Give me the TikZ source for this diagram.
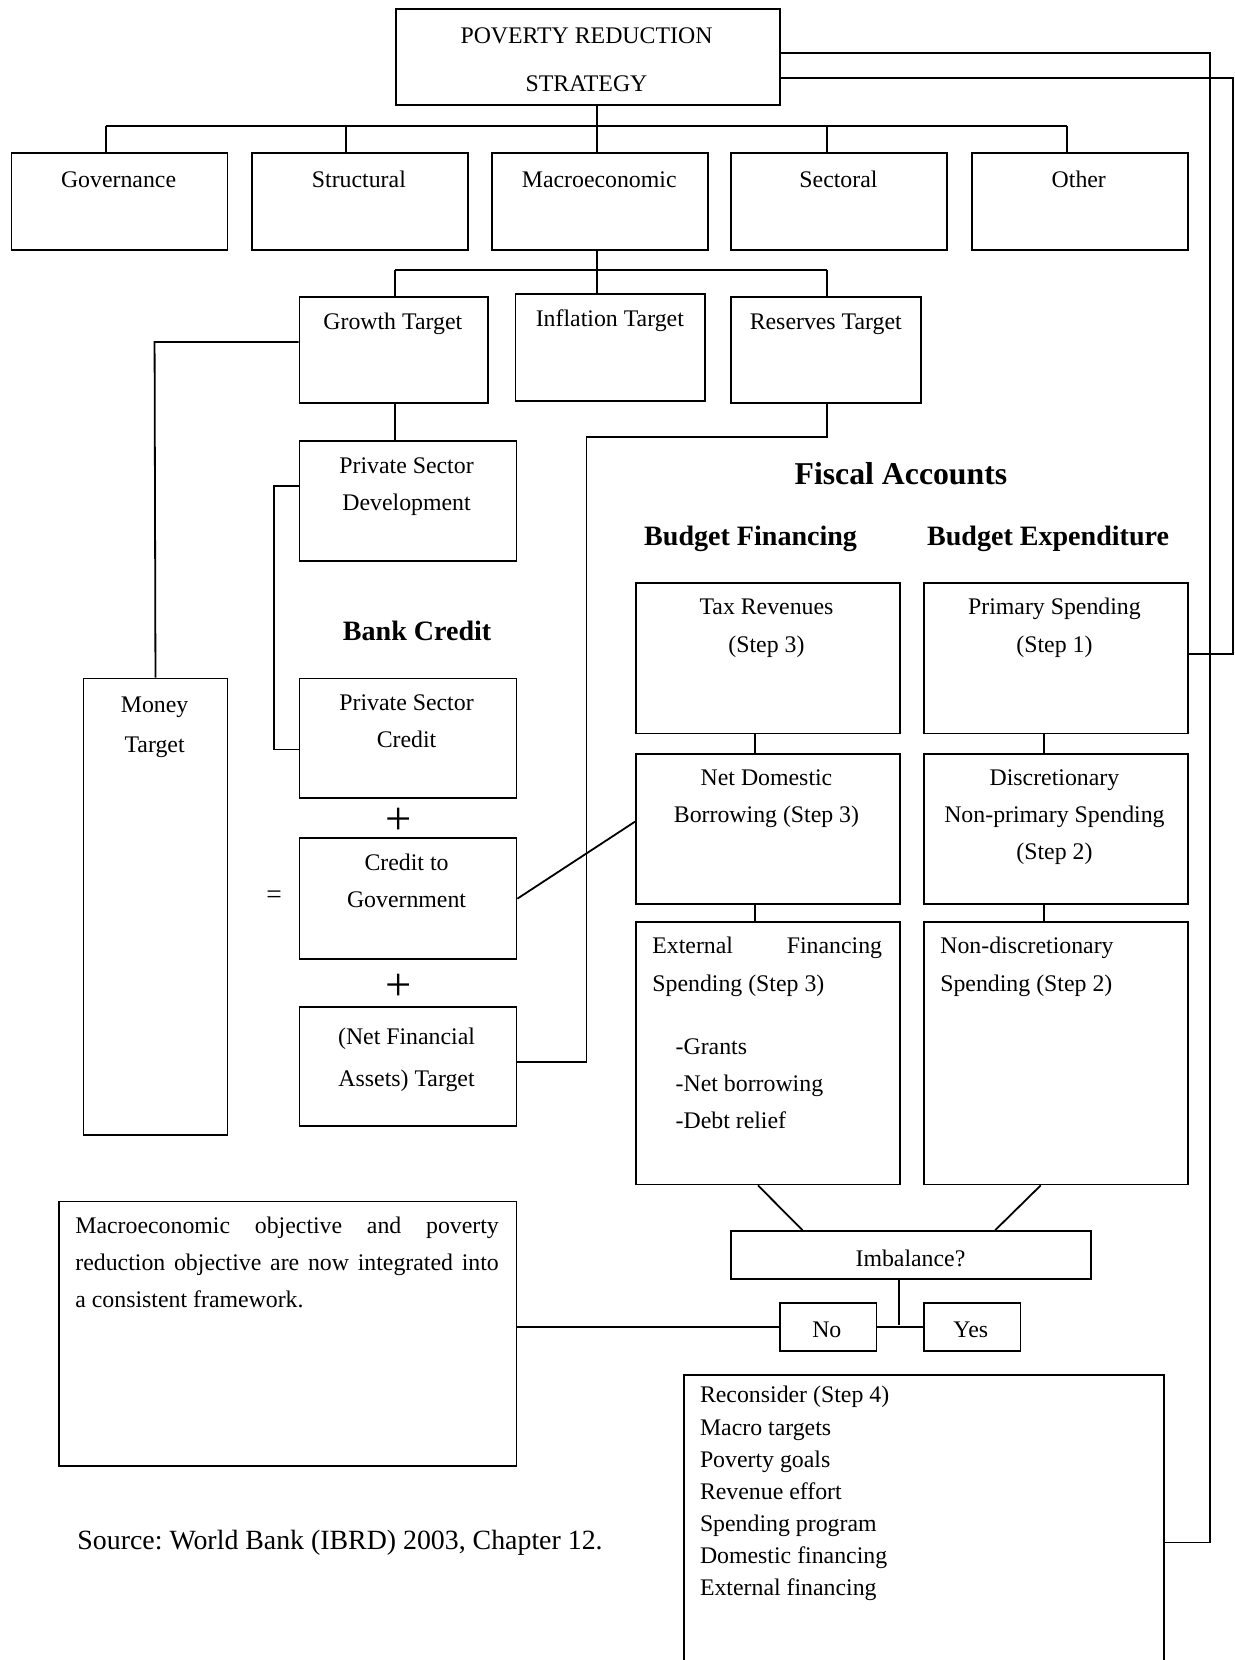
\documentclass[tikz,border=0pt]{standalone}
\usepackage{fontspec}
\setmainfont{Liberation Serif}
\usetikzlibrary{calc}
\frenchspacing
\begin{document}
\begin{tikzpicture}[x=1pt,y=-1pt,
  box/.style={draw, line width=1.7pt, inner sep=0pt, anchor=north west},
  conn/.style={line width=1.7pt},
  txt/.style={font=\fontsize{22.5}{35}\selectfont, inner sep=0pt, anchor=north, align=center},
  ltxt/.style={font=\fontsize{22.5}{35}\selectfont, inner sep=0pt, anchor=north west, align=left},
  head/.style={font=\fontsize{26.5}{30}\selectfont\bfseries, inner sep=0pt, anchor=base},
  sym/.style={inner sep=0pt, anchor=base}]
\useasboundingbox (0,0) rectangle (1166,1568);
\newcommand\st{\rule{0pt}{16pt}}
% ---------- boxes ----------
\node[box, minimum width=363, minimum height=90] (prs) at (373,8) {};
\node[box, minimum width=204, minimum height=91] (gov) at (10,144) {};
\node[box, minimum width=204, minimum height=91] (str) at (237,144) {};
\node[box, minimum width=204, minimum height=91] (mac) at (464,144) {};
\node[box, minimum width=204, minimum height=91] (sec) at (690,144) {};
\node[box, minimum width=204, minimum height=91] (oth) at (917,144) {};
\node[box, minimum width=178, minimum height=100] (gro) at (282,280) {};
\node[box, minimum width=179, minimum height=101] (inf) at (486,277) {};
\node[box, minimum width=179, minimum height=100] (res) at (690,280) {};
\node[box, minimum width=205, minimum height=113] (psd) at (282,416) {};
\node[box, minimum width=205, minimum height=113] (psc) at (282,640) {};
\node[box, minimum width=205, minimum height=114] (cgv) at (282,791) {};
\node[box, minimum width=205, minimum height=113] (nfa) at (282,950) {};
\node[box, minimum width=136, minimum height=431] (mon) at (78,640) {};
\node[box, minimum width=249, minimum height=142] (tax) at (600,550) {};
\node[box, minimum width=249, minimum height=142] (pri) at (872,550) {};
\node[box, minimum width=249, minimum height=142] (ndb) at (600,711) {};
\node[box, minimum width=249, minimum height=142] (dis) at (872,711) {};
\node[box, minimum width=249, minimum height=248] (ext) at (600,870) {};
\node[box, minimum width=249, minimum height=248] (non) at (872,870) {};
\node[box, minimum width=340, minimum height=45] (imb) at (690,1162) {};
\node[box, minimum width=91, minimum height=45] (no) at (736,1230) {};
\node[box, minimum width=91, minimum height=45] (yes) at (872,1230) {};
\node[box, minimum width=432, minimum height=250] (obj) at (55,1134) {};
\node[box, minimum width=454, minimum height=300] (rec) at (645,1298) {};
% ---------- texts ----------
\node[txt, font=\fontsize{22.5}{45}\selectfont] (prs-t) at (554,25) {\st POVERTY REDUCTION\\STRATEGY};
\node[txt] (gov-t) at (112,161) {\st Governance};
\node[txt] (str-t) at (339,161) {\st Structural};
\node[txt] (mac-t) at (566,161) {\st Macroeconomic};
\node[txt] (sec-t) at (792,161) {\st Sectoral};
\node[txt] (oth-t) at (1019,161) {\st Other};
\node[txt] (gro-t) at (371,295) {\st Growth Target};
\node[txt] (inf-t) at (576,292) {\st Inflation Target};
\node[txt] (res-t) at (780,295) {\st Reserves Target};
\node[txt] (psd-t) at (384,431) {\st Private Sector\\Development};
\node[head] (bank-t) at (394,605) {Bank Credit};
\node[txt] (psc-t) at (384,655) {\st Private Sector\\Credit};
\node[sym, font=\fontsize{44}{44}\selectfont] (plus1) at (377,788) {+};
\node[txt] (cgv-t) at (384,806) {\st Credit to\\Government};
\node[sym, font=\fontsize{26}{26}\selectfont] (eq) at (259,853) {=};
\node[sym, font=\fontsize{44}{44}\selectfont] (plus2) at (377,945) {+};
\node[txt, font=\fontsize{22.5}{40}\selectfont] (nfa-t) at (384,970) {\st (Net Financial\\Assets) Target};
\node[txt, font=\fontsize{22.5}{38}\selectfont] (mon-t) at (146,657) {\st Money\\Target};
\node[head, font=\fontsize{30}{34}\selectfont\bfseries] (fis-t) at (851,458) {Fiscal Accounts};
\node[head] (bf-t) at (709,515) {Budget Financing};
\node[head] (be-t) at (990,515) {Budget Expenditure};
\node[txt, font=\fontsize{22.5}{36}\selectfont] (tax-t) at (724,564) {\st Tax Revenues\\(Step 3)};
\node[txt, font=\fontsize{22.5}{36}\selectfont] (pri-t) at (996,564) {\st Primary Spending\\(Step 1)};
\node[txt] (ndb-t) at (724,726) {\st Net Domestic\\Borrowing (Step 3)};
\node[txt] (dis-t) at (996,726) {\st Discretionary\\Non-primary Spending\\(Step 2)};
\node[ltxt, font=\fontsize{22.5}{36}\selectfont] (ext-t) at (616,884)
  {\st\makebox[217pt][s]{External\hfill Financing}\\Spending (Step 3)};
\node[ltxt] (ext-l) at (638,980) {\st -Grants\\-Net borrowing\\-Debt relief};
\node[ltxt, font=\fontsize{22.5}{36}\selectfont] (non-t) at (888,884) {\st Non-discretionary\\Spending (Step 2)};
\node[txt] (imb-t) at (860,1180) {\st Imbalance?};
\node[txt] (no-t) at (781,1247) {\st No};
\node[txt] (yes-t) at (917,1247) {\st Yes};
\node[ltxt, text width=400, align=justify] (obj-t) at (71,1149)
  {\hyphenpenalty=10000\st Macroeconomic objective and poverty\linebreak reduction objective are now integrated into\linebreak a consistent framework.};
\node[sym, anchor=base west, font=\fontsize{26.3}{30}\selectfont] (src) at (73,1464) {Source: World Bank (IBRD) 2003, Chapter 12.};
\node[ltxt, font=\fontsize{22.5}{30.3}\selectfont] (rec-t) at (661,1309)
  {\st Reconsider (Step 4)\\Macro targets\\Poverty goals\\Revenue effort\\Spending program\\Domestic financing\\External financing};
% ---------- connectors ----------
\coordinate (b1) at (100,119);
\coordinate (b2) at (327,119);
\coordinate (b3) at (564,119);
\coordinate (b4) at (781,119);
\coordinate (b5) at (1008,119);
\draw[conn] (b1) -- (b5);
\draw[conn] (prs.south -| b3) -- (b3);
\draw[conn] (b1) -- (b1 |- gov.north);
\draw[conn] (b2) -- (b2 |- str.north);
\draw[conn] (b3) -- (b3 |- mac.north);
\draw[conn] (b4) -- (b4 |- sec.north);
\draw[conn] (b5) -- (b5 |- oth.north);
\coordinate (c1) at (373,255);
\coordinate (c2) at (564,255);
\coordinate (c3) at (781,255);
\draw[conn] (c2 |- mac.south) -- (c2 |- inf.north);
\draw[conn] (c1) -- (c3);
\draw[conn] (c1) -- (c1 |- gro.north);
\draw[conn] (c3) -- (c3 |- res.north);
\coordinate (g1) at (146,323);
\draw[conn] (g1 -| gro.west) -- (g1) -- (mon.north);
\draw[conn] (c1 |- gro.south) -- (c1 |- psd.north);
\coordinate (k1) at (259,459);
\coordinate (k2) at (259,708);
\draw[conn] (k1 -| psd.west) -- (k1) -- (k2) -- (k2 -| psc.west);
\coordinate (r1) at (554,413);
\coordinate (r2) at (554,1003);
\draw[conn] (c3 |- res.south) -- (c3 |- r1) -- (r1) -- (r2) -- (r2 -| nfa.east);
\coordinate (n1) at (600,776);
\draw[conn] (cgv.east) -- (n1);
\coordinate (t1) at (713,700);
\coordinate (p1) at (986,700);
\draw[conn] (t1 |- tax.south) -- (t1 |- ndb.north);
\draw[conn] (t1 |- ndb.south) -- (t1 |- ext.north);
\draw[conn] (p1 |- pri.south) -- (p1 |- dis.north);
\draw[conn] (p1 |- dis.south) -- (p1 |- non.north);
\draw[conn] ($(ext.south west)+(116,0)$) -- ($(imb.north west)+(68,0)$);
\draw[conn] ($(non.south west)+(111,0)$) -- ($(imb.north west)+(250,0)$);
\coordinate (y1) at (849,1252);
\draw[conn] (y1 |- imb.south) -- (y1);
\draw[conn] (no.east) -- (yes.west);
\draw[conn] (no.west) -- (no.west -| obj.east);
\coordinate (u1) at (1143,50);
\coordinate (u2) at (1143,1457);
\draw[conn] (u1 -| prs.east) -- (u1) -- (u2) -- (u2 -| rec.east);
\coordinate (l1) at (1164.5,74);
\coordinate (l2) at (1164.5,618);
\draw[conn] (l1 -| prs.east) -- (l1) -- (l2) -- (l2 -| pri.east);
\end{tikzpicture}
\end{document}
